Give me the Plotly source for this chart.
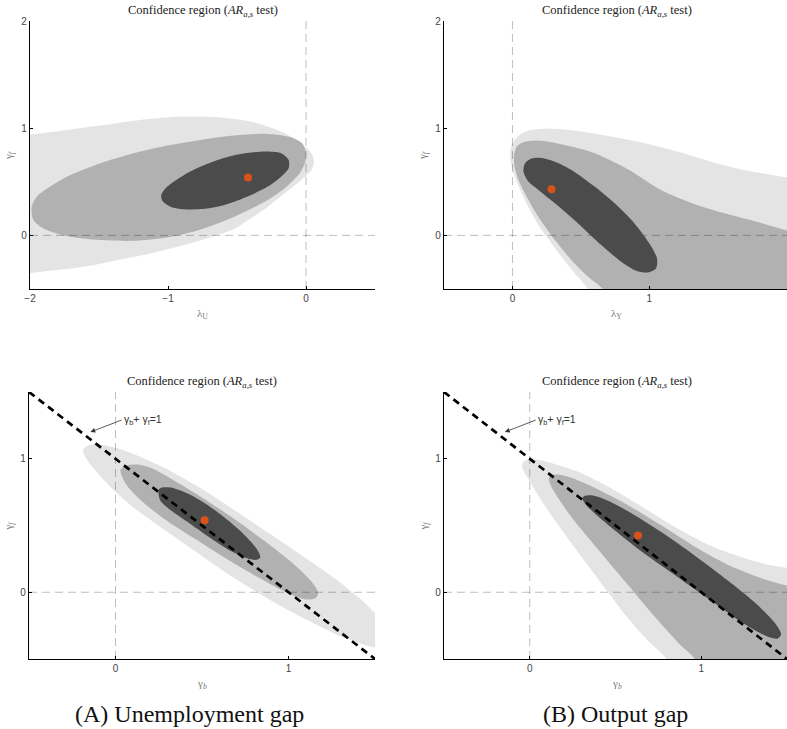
import plotly.graph_objects as go

# ---------------- data ----------------
# Panel A-top: lambda_U vs gamma_f
a1_light_x = [-2.3, -2.0, -1.733, -1.369, -1.126, -0.883, -0.641, -0.398, -0.155, -0.034, 0.039, 0.058, 0.039,
              -0.034, -0.155, -0.277, -0.398, -0.519, -0.641, -0.883, -1.126, -1.369, -1.612, -1.854, -2.0, -2.3]
a1_light_y = [0.88, 0.938, 0.984, 1.047, 1.087, 1.109, 1.103, 1.062, 0.953, 0.860, 0.766, 0.688, 0.611,
              0.517, 0.393, 0.268, 0.159, 0.062, 0.003, -0.090, -0.168, -0.231, -0.293, -0.330, -0.352, -0.40]
a1_mid_x = [-1.988, -1.951, -1.854, -1.733, -1.490, -1.248, -1.005, -0.762, -0.519, -0.277, -0.131, -0.034, -0.002,
            -0.005, -0.046, -0.155, -0.277, -0.519, -0.762, -1.005, -1.248, -1.490, -1.733, -1.903, -1.976]
a1_mid_y = [0.268, 0.361, 0.455, 0.548, 0.673, 0.766, 0.838, 0.891, 0.931, 0.947, 0.922, 0.866, 0.782,
            0.688, 0.579, 0.439, 0.330, 0.174, 0.056, -0.019, -0.050, -0.044, -0.006, 0.065, 0.143]
a1_dark_x = [-1.049, -1.005, -0.883, -0.762, -0.641, -0.519, -0.398, -0.277, -0.180, -0.126, -0.126, -0.180,
             -0.277, -0.398, -0.519, -0.641, -0.762, -0.883, -0.981, -1.041]
a1_dark_y = [0.377, 0.455, 0.564, 0.642, 0.704, 0.748, 0.773, 0.782, 0.766, 0.704, 0.626, 0.548,
             0.455, 0.377, 0.315, 0.268, 0.246, 0.243, 0.268, 0.324]
a1_est = (-0.42, 0.54)

# Panel B-top: lambda_Y vs gamma_f
b1_light_x = [0.60, 0.552, 0.455, 0.358, 0.286, 0.213, 0.140, 0.080, 0.031, -0.005, -0.017, -0.005, 0.044, 0.116,
              0.237, 0.358, 0.479, 0.722, 0.964, 1.206, 1.448, 1.690, 1.995, 2.3, 2.3]
b1_light_y = [-0.8, -0.505, -0.355, -0.199, -0.075, 0.050, 0.206, 0.361, 0.502, 0.642, 0.751, 0.844, 0.928, 0.978,
              0.994, 0.991, 0.975, 0.922, 0.860, 0.782, 0.688, 0.611, 0.542, 0.47, -0.8]
b1_mid_x = [0.75, 0.661, 0.552, 0.431, 0.310, 0.189, 0.104, 0.044, 0.015, 0.012, 0.031, 0.080, 0.165, 0.286,
            0.479, 0.600, 0.843, 1.085, 1.327, 1.569, 1.811, 1.995, 2.3, 2.3]
b1_mid_y = [-0.8, -0.505, -0.386, -0.231, -0.044, 0.174, 0.361, 0.517, 0.642, 0.751, 0.829, 0.869, 0.885, 0.869,
            0.813, 0.766, 0.617, 0.424, 0.293, 0.199, 0.118, 0.050, -0.04, -0.8]
b1_dark_x = [0.080, 0.092, 0.140, 0.213, 0.310, 0.431, 0.600, 0.746, 0.891, 1.0, 1.056, 1.048, 0.988, 0.903,
             0.794, 0.649, 0.479, 0.310, 0.189, 0.116]
b1_dark_y = [0.595, 0.673, 0.717, 0.723, 0.688, 0.611, 0.455, 0.299, 0.112, -0.075, -0.215, -0.308, -0.346, -0.330,
             -0.246, -0.090, 0.112, 0.299, 0.424, 0.502]
b1_est = (0.285, 0.43)

# Panel A-bottom: gamma_b vs gamma_f
a2_light_x = [-0.188, -0.161, -0.107, 0.010, 0.107, 0.301, 0.495, 0.689, 0.883, 1.078, 1.272, 1.427, 1.515, 1.60,
              1.62, 1.515, 1.369, 1.272, 1.078, 0.883, 0.689, 0.495, 0.301, 0.107, -0.029, -0.126, -0.175]
a2_light_y = [1.065, 1.098, 1.108, 1.078, 1.033, 0.920, 0.777, 0.614, 0.446, 0.276, 0.100, -0.063, -0.175, -0.28,
              -0.36, -0.414, -0.363, -0.313, -0.188, -0.050, 0.105, 0.276, 0.451, 0.632, 0.789, 0.927, 1.015]
a2_mid_x = [0.029, 0.058, 0.126, 0.204, 0.301, 0.495, 0.689, 0.883, 1.039, 1.136, 1.171, 1.155, 1.107, 1.039,
            0.883, 0.689, 0.495, 0.301, 0.146, 0.058]
a2_mid_y = [0.915, 0.947, 0.957, 0.932, 0.865, 0.714, 0.546, 0.363, 0.201, 0.075, -0.005, -0.045, -0.055, -0.030,
            0.070, 0.213, 0.371, 0.531, 0.689, 0.815]
a2_dark_x = [0.249, 0.266, 0.320, 0.417, 0.534, 0.650, 0.748, 0.816, 0.837, 0.816, 0.757, 0.650, 0.534, 0.417,
             0.320, 0.258]
a2_dark_y = [0.764, 0.784, 0.784, 0.739, 0.652, 0.539, 0.426, 0.326, 0.263, 0.243, 0.256, 0.321, 0.419, 0.526,
             0.614, 0.689]
a2_est = (0.515, 0.539)

# Panel B-bottom: gamma_b vs gamma_f
b2_light_x = [-0.045, -0.033, 0.0, 0.087, 0.282, 0.476, 0.670, 0.864, 1.058, 1.252, 1.388, 1.497, 1.8, 1.8, 0.85,
              0.796, 0.689, 0.573, 0.456, 0.340, 0.223, 0.126, 0.049, -0.010, -0.039]
b2_light_y = [0.952, 0.982, 0.997, 0.982, 0.902, 0.777, 0.627, 0.476, 0.346, 0.256, 0.206, 0.183, 0.10, -0.8, -0.8,
              -0.501, -0.363, -0.195, 0.0, 0.201, 0.401, 0.576, 0.727, 0.852, 0.915]
b2_mid_x = [0.111, 0.122, 0.165, 0.243, 0.379, 0.573, 0.767, 0.961, 1.155, 1.350, 1.497, 1.8, 1.8, 1.0,
            0.961, 0.883, 0.767, 0.573, 0.379, 0.243, 0.165, 0.122]
b2_mid_y = [0.852, 0.877, 0.882, 0.857, 0.782, 0.652, 0.501, 0.343, 0.206, 0.105, 0.050, -0.05, -0.8, -0.8,
            -0.501, -0.401, -0.238, 0.055, 0.351, 0.564, 0.707, 0.802]
b2_dark_x = [0.307, 0.320, 0.359, 0.437, 0.573, 0.767, 0.961, 1.155, 1.311, 1.427, 1.466, 1.447, 1.388, 1.252,
             1.058, 0.864, 0.670, 0.515, 0.398, 0.330]
b2_dark_y = [0.702, 0.722, 0.727, 0.697, 0.607, 0.451, 0.276, 0.088, -0.075, -0.226, -0.313, -0.346, -0.333, -0.238,
             -0.063, 0.113, 0.288, 0.444, 0.569, 0.652]
b2_est = (0.631, 0.426)

# axis ranges and ticks
x_ranges = [[-2, 0.5], [-0.5, 2.005], [-0.5, 1.5], [-0.5, 1.5]]
y_ranges = [[-0.5, 2], [-0.5, 2], [-0.5, 1.5], [-0.5, 1.5]]
x_ticks = [[-2, -1, 0], [0, 1, 2], [0, 1], [0, 1]]
y_ticks = [[0, 1, 2], [0, 1, 2], [0, 1], [0, 1]]
x_titles = ["λ<sub>U</sub>", "λ<sub>Y</sub>", "γ<sub><i>b</i></sub>", "γ<sub><i>b</i></sub>"]
y_title = "γ<sub><i>f</i></sub>"
panel_title = "Confidence region (<i>AR</i><sub><i>a,s</i></sub> test)"
captions = ["(A) Unemployment gap", "(B) Output gap"]
line_label = "γ<sub>b</sub>+ γ<sub>f</sub>=1"

# ---------------- styling ----------------
W, H = 787, 729
LIGHT, MID, DARK = "#e4e4e4", "#b1b1b1", "#4b4b4b"
ORANGE = "#D95319"
SERIF = "Liberation Serif, Times New Roman, serif"
SANS = "Liberation Sans, Arial, sans-serif"


def px(v):
    return v / W


def py(v):
    return 1 - v / H


# pixel boxes of plot areas: (left, right, top, bottom)
boxes = [(30, 375, 21, 289), (444, 787, 21, 289), (29, 375, 392, 659), (444, 787, 392, 659)]

fig = go.Figure()

panels = [
    (a1_light_x, a1_light_y, a1_mid_x, a1_mid_y, a1_dark_x, a1_dark_y, a1_est),
    (b1_light_x, b1_light_y, b1_mid_x, b1_mid_y, b1_dark_x, b1_dark_y, b1_est),
    (a2_light_x, a2_light_y, a2_mid_x, a2_mid_y, a2_dark_x, a2_dark_y, a2_est),
    (b2_light_x, b2_light_y, b2_mid_x, b2_mid_y, b2_dark_x, b2_dark_y, b2_est),
]


def closed(a):
    return list(a) + [a[0]]


for i, (lx, ly, mx, my, dx, dy, est) in enumerate(panels):
    sfx = "" if i == 0 else str(i + 1)
    xa, ya = "x" + sfx, "y" + sfx
    common = dict(xaxis=xa, yaxis=ya, showlegend=False, hoverinfo="skip")
    for sx, sy, col in [(lx, ly, LIGHT), (mx, my, MID)]:
        fig.add_trace(go.Scatter(x=closed(sx), y=closed(sy), mode="lines", fill="toself",
                                 fillcolor=col, line=dict(width=0, color=col, shape="spline", smoothing=0.8),
                                 **common))
    xr, yr = x_ranges[i], y_ranges[i]
    ref = dict(color="rgba(0,0,0,0.26)", width=1, dash="8px,5px")
    fig.add_trace(go.Scatter(x=[0, 0], y=yr, mode="lines", line=ref, **common))
    fig.add_trace(go.Scatter(x=xr, y=[0, 0], mode="lines", line=ref, **common))
    fig.add_trace(go.Scatter(x=closed(dx), y=closed(dy), mode="lines", fill="toself",
                             fillcolor=DARK, line=dict(width=0, color=DARK, shape="spline", smoothing=0.8),
                             **common))
    if i >= 2:
        fig.add_trace(go.Scatter(x=xr, y=[1 - xr[0], 1 - xr[1]], mode="lines",
                                 line=dict(color="black", width=2.7, dash="7px,5px"), **common))
    fig.add_trace(go.Scatter(x=[est[0]], y=[est[1]], mode="markers",
                             marker=dict(color=ORANGE, size=8, line=dict(width=0)), **common))

    l, r, t, b = boxes[i]
    axis_style = dict(showgrid=False, zeroline=False, showline=True, linecolor="black", linewidth=1.3,
                      ticks="inside", ticklen=3, tickwidth=1, tickcolor="black", automargin=False,
                      tickfont=dict(family=SANS, size=10, color="#444"))
    fig.layout["xaxis" + sfx] = dict(domain=[px(l), min(1.0, px(r))], range=xr, tickvals=x_ticks[i],
                                     anchor=ya, **axis_style)
    fig.layout["yaxis" + sfx] = dict(domain=[py(b), py(t)], range=yr, tickvals=y_ticks[i],
                                     anchor=xa, **axis_style)

annotations = []
for i in range(4):
    l, r, t, b = boxes[i]
    cx = l + 345 / 2
    annotations.append(dict(text=panel_title, x=px(cx), y=py(t - 10), xref="paper", yref="paper",
                            showarrow=False, xanchor="center", yanchor="middle",
                            font=dict(family=SERIF, size=12.5, color="#222")))
    annotations.append(dict(text=x_titles[i], x=px(cx), y=py(b + 25), xref="paper", yref="paper",
                            showarrow=False, xanchor="center", yanchor="middle",
                            font=dict(family=SERIF, size=11, color="#777")))
    annotations.append(dict(text=y_title, x=px(l - 21), y=py((t + b) / 2), xref="paper", yref="paper",
                            showarrow=False, xanchor="center", yanchor="middle", textangle=-90,
                            font=dict(family=SERIF, size=11, color="#777")))

for sfx in ["3", "4"]:
    annotations.append(dict(text=line_label, x=-0.145, y=1.20, ax=0.035, ay=1.29,
                            xref="x" + sfx, yref="y" + sfx, axref="x" + sfx, ayref="y" + sfx,
                            showarrow=True, arrowhead=2, arrowsize=1.2, arrowwidth=0.8, arrowcolor="#333",
                            xanchor="left", yanchor="middle",
                            font=dict(family=SANS, size=10.5, color="#333")))

annotations.append(dict(text=captions[0], x=px(189), y=py(714), xref="paper", yref="paper",
                        showarrow=False, xanchor="center", yanchor="middle",
                        font=dict(family=SERIF, size=24, color="#111")))
annotations.append(dict(text=captions[1], x=px(615), y=py(714), xref="paper", yref="paper",
                        showarrow=False, xanchor="center", yanchor="middle",
                        font=dict(family=SERIF, size=24, color="#111")))

fig.update_layout(width=W, height=H, margin=dict(l=0, r=0, t=0, b=0, autoexpand=False),
                  paper_bgcolor="white", plot_bgcolor="white", annotations=annotations,
                  showlegend=False)

fig.write_html("out.html", config={"displayModeBar": False},
               post_script="document.body.style.margin='0';document.body.style.overflow='hidden';")
